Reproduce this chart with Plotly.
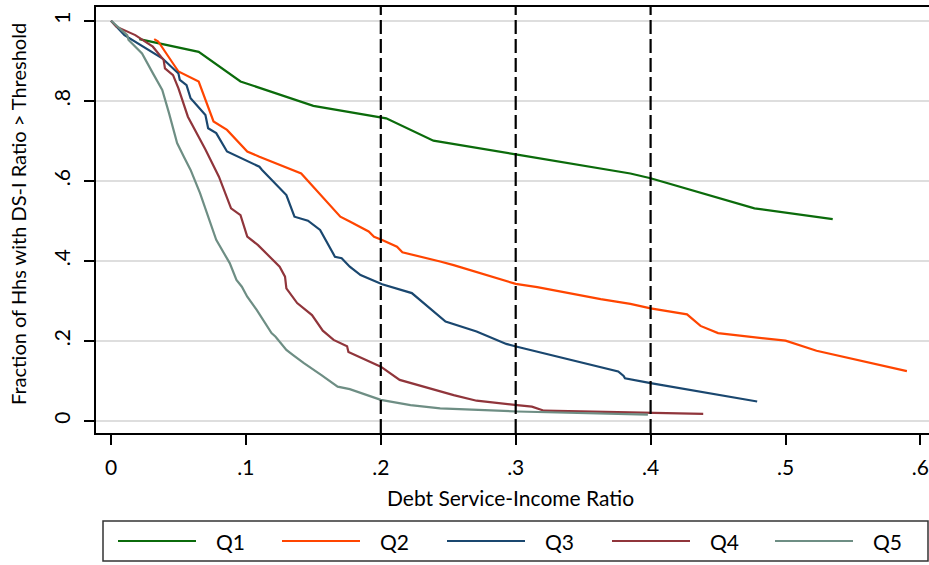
import plotly.graph_objects as go

# Share of households whose debt service-to-income ratio exceeds a threshold, by quintile
q1_x = [0.021, 0.065, 0.096, 0.150, 0.204, 0.239, 0.300, 0.385, 0.400, 0.477, 0.535]
q1_y = [0.954, 0.922, 0.848, 0.787, 0.756, 0.700, 0.666, 0.618, 0.606, 0.531, 0.504]

q2_x = [0.032, 0.035, 0.050, 0.065, 0.076, 0.086, 0.101, 0.110, 0.141, 0.162, 0.170,
        0.177, 0.191, 0.195, 0.201, 0.212, 0.216, 0.244, 0.254, 0.300, 0.316, 0.363,
        0.385, 0.400, 0.427, 0.437, 0.450, 0.500, 0.523, 0.590]
q2_y = [0.954, 0.948, 0.873, 0.848, 0.748, 0.727, 0.673, 0.660, 0.618, 0.539, 0.510,
        0.498, 0.473, 0.460, 0.452, 0.435, 0.421, 0.398, 0.389, 0.342, 0.334, 0.304,
        0.292, 0.281, 0.266, 0.237, 0.219, 0.200, 0.175, 0.124]

q3_x = [0.000, 0.010, 0.038, 0.050, 0.051, 0.056, 0.059, 0.070, 0.072, 0.078, 0.086,
        0.110, 0.112, 0.130, 0.136, 0.146, 0.155, 0.162, 0.166, 0.171, 0.177, 0.185,
        0.201, 0.223, 0.248, 0.271, 0.293, 0.301, 0.376, 0.380, 0.381, 0.400, 0.479]
q3_y = [1.000, 0.964, 0.906, 0.868, 0.852, 0.839, 0.806, 0.764, 0.731, 0.719, 0.673,
        0.635, 0.627, 0.564, 0.510, 0.500, 0.477, 0.433, 0.410, 0.406, 0.385, 0.364,
        0.341, 0.319, 0.248, 0.223, 0.192, 0.185, 0.123, 0.112, 0.106, 0.094, 0.048]

q4_x = [0.000, 0.004, 0.018, 0.023, 0.031, 0.039, 0.040, 0.046, 0.050, 0.057, 0.070,
        0.080, 0.089, 0.096, 0.101, 0.109, 0.125, 0.129, 0.130, 0.138, 0.149, 0.157,
        0.165, 0.175, 0.176, 0.200, 0.214, 0.254, 0.271, 0.301, 0.312, 0.321, 0.385,
        0.400, 0.439]
q4_y = [1.000, 0.985, 0.964, 0.952, 0.935, 0.902, 0.881, 0.864, 0.831, 0.760, 0.678,
        0.610, 0.531, 0.514, 0.460, 0.439, 0.385, 0.360, 0.331, 0.294, 0.264, 0.225,
        0.202, 0.186, 0.172, 0.135, 0.102, 0.064, 0.050, 0.039, 0.035, 0.025, 0.021,
        0.019, 0.017]

q5_x = [0.000, 0.012, 0.013, 0.023, 0.031, 0.038, 0.043, 0.049, 0.054, 0.059, 0.066,
        0.072, 0.078, 0.088, 0.093, 0.097, 0.101, 0.108, 0.119, 0.122, 0.130, 0.135,
        0.143, 0.156, 0.168, 0.177, 0.200, 0.222, 0.244, 0.301, 0.385, 0.398]
q5_y = [1.000, 0.964, 0.952, 0.918, 0.869, 0.827, 0.769, 0.694, 0.660, 0.627, 0.569,
        0.510, 0.452, 0.394, 0.352, 0.335, 0.310, 0.277, 0.219, 0.210, 0.177, 0.164,
        0.144, 0.114, 0.085, 0.079, 0.052, 0.039, 0.031, 0.023, 0.017, 0.015]

series_names = ["Q1", "Q2", "Q3", "Q4", "Q5"]
series_colors = ["#0b6b0b", "#ff4500", "#1a476f", "#90353b", "#6e8e84"]
series_x = [q1_x, q2_x, q3_x, q4_x, q5_x]
series_y = [q1_y, q2_y, q3_y, q4_y, q5_y]

thresholds = [0.2, 0.3, 0.4]

x_tickvals = [0, 0.1, 0.2, 0.3, 0.4, 0.5, 0.6]
x_ticktext = ["0", ".1", ".2", ".3", ".4", ".5", ".6"]
y_tickvals = [0, 0.2, 0.4, 0.6, 0.8, 1.0]
y_ticktext = ["0", ".2", ".4", ".6", ".8", "1"]

FONT = "Lato"
FS = 21

fig = go.Figure()
for name, color, xs, ys in zip(series_names, series_colors, series_x, series_y):
    fig.add_trace(go.Scatter(x=xs, y=ys, mode="lines", name=name,
                             line=dict(color=color, width=2.2), showlegend=False))

# dashed reference lines at the thresholds
for t in thresholds:
    fig.add_shape(type="line", xref="x", yref="paper", x0=t, x1=t, y0=0, y1=1,
                  line=dict(color="black", width=2.2, dash="14px,5px"), layer="above")

# legend box drawn below the axis title
plot_l, plot_r, plot_t, plot_b = 96, 929, 7, 433
pw, ph = plot_r - plot_l, plot_b - plot_t


def px_x(p):
    return (p - plot_l) / pw


def px_y(p):
    return (plot_b - p) / ph


fig.add_shape(type="rect", xref="paper", yref="paper",
              x0=px_x(103), x1=px_x(928), y0=px_y(521), y1=px_y(561),
              line=dict(color="#333333", width=1.5), fillcolor="white")
legend_starts = [118, 282, 447, 612, 775]
for start, name, color in zip(legend_starts, series_names, series_colors):
    fig.add_shape(type="line", xref="paper", yref="paper",
                  x0=px_x(start), x1=px_x(start + 78), y0=px_y(541), y1=px_y(541),
                  line=dict(color=color, width=2.2))
    fig.add_annotation(text=name, xref="paper", yref="paper",
                       x=px_x(start + 96), y=px_y(541), xanchor="left", yanchor="middle",
                       showarrow=False, font=dict(family=FONT, size=FS, color="black"))

fig.add_annotation(text="Debt Service-Income Ratio", xref="paper", yref="paper",
                   x=px_x(510), y=px_y(497), xanchor="center", yanchor="middle",
                   showarrow=False, font=dict(family=FONT, size=FS, color="black"))
fig.add_annotation(text="Fraction of Hhs with DS-I Ratio > Threshold", xref="paper",
                   yref="paper", x=px_x(18), y=px_y(214), xanchor="center",
                   yanchor="middle", textangle=-90, showarrow=False,
                   font=dict(family=FONT, size=FS - 1, color="black"))

fig.update_layout(
    width=929, height=565,
    margin=dict(l=plot_l, r=929 - plot_r, t=plot_t, b=565 - plot_b),
    paper_bgcolor="white", plot_bgcolor="white",
    font=dict(family=FONT, size=FS, color="black"),
    showlegend=False,
)
fig.update_xaxes(range=[(plot_l - 111) / 1349, (plot_r - 111) / 1349],
                 tickvals=x_tickvals, ticktext=x_ticktext,
                 ticks="outside", ticklen=10, tickwidth=1.5, tickcolor="black",
                 showline=True, linecolor="black", linewidth=1.5, mirror=True,
                 showgrid=False, zeroline=False, ticklabelstandoff=5)
fig.update_yaxes(range=[(420.7 - plot_b) / 400, (420.7 - plot_t) / 400],
                 tickvals=y_tickvals, ticktext=y_ticktext, tickangle=-90,
                 ticks="outside", ticklen=10, tickwidth=1.5, tickcolor="black",
                 showline=True, linecolor="black", linewidth=1.5,
                 showgrid=True, gridcolor="#dedede", gridwidth=1.5,
                 zeroline=False, ticklabelstandoff=6)

fig.write_html("out.html")
